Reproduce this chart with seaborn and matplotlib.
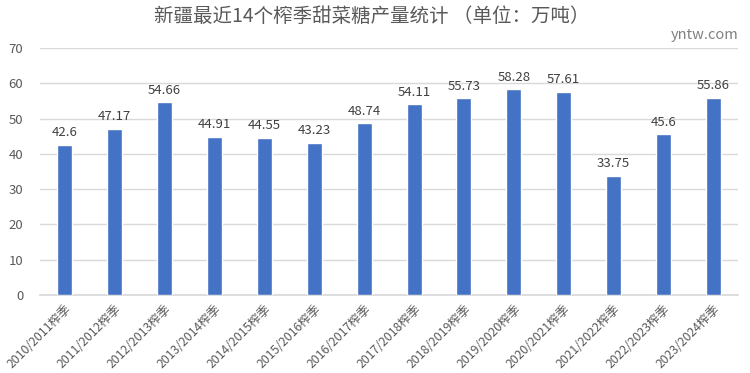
import matplotlib
matplotlib.use("Agg")
import matplotlib.pyplot as plt
import seaborn as sns
import pandas as pd

seasons = ["2010/2011榨季", "2011/2012榨季", "2012/2013榨季", "2013/2014榨季",
           "2014/2015榨季", "2015/2016榨季", "2016/2017榨季", "2017/2018榨季",
           "2018/2019榨季", "2019/2020榨季", "2020/2021榨季", "2021/2022榨季",
           "2022/2023榨季", "2023/2024榨季"]
values = [42.6, 47.17, 54.66, 44.91, 44.55, 43.23, 48.74, 54.11,
          55.73, 58.28, 57.61, 33.75, 45.6, 55.86]
value_labels = ["42.6", "47.17", "54.66", "44.91", "44.55", "43.23", "48.74",
                "54.11", "55.73", "58.28", "57.61", "33.75", "45.6", "55.86"]
yticks = [0, 10, 20, 30, 40, 50, 60, 70]

sns.set_theme(style="white")
plt.rcParams['font.family'] = ['Noto Sans CJK SC', 'DejaVu Sans']

df = pd.DataFrame({"season": seasons, "value": values})

fig = plt.figure(figsize=(7.5, 3.73), dpi=100)
ax = fig.add_axes([0.0533, 0.209, 0.931, 0.662])

sns.barplot(data=df, x="season", y="value", color="#4472C4", width=0.3,
            saturation=1, ax=ax, zorder=3)

ax.set_ylim(0, 70)
ax.set_yticks(yticks)
ax.set_xlim(-0.5, len(seasons) - 0.5)
ax.yaxis.grid(True, color="#D9D9D9", linewidth=1, zorder=0)
ax.set_axisbelow(True)
for s in ["top", "right", "left"]:
    ax.spines[s].set_visible(False)
ax.spines["bottom"].set_color("#D9D9D9")
ax.set_xlabel("")
ax.set_ylabel("")
ax.tick_params(axis="y", length=0, labelsize=9.5, labelcolor="#595959", pad=12)
ax.tick_params(axis="x", length=0, labelsize=8.8, labelcolor="#595959", pad=5)
plt.setp(ax.get_xticklabels(), rotation=45, ha="right", rotation_mode="anchor")

for i, (v, lab) in enumerate(zip(values, value_labels)):
    ax.annotate(lab, (i, v), xytext=(0, 4), textcoords="offset points",
                ha="center", va="bottom", fontsize=9.5, color="#404040")

fig.text(0.495, 0.955, "新疆最近14个榨季甜菜糖产量统计 （单位：万吨）", ha="center",
         va="center", fontsize=14, color="#595959")
fig.text(0.985, 0.905, "yntw.com", ha="right", va="center", fontsize=10.5,
         color="#808080")

fig.savefig("out.png", dpi=100)
